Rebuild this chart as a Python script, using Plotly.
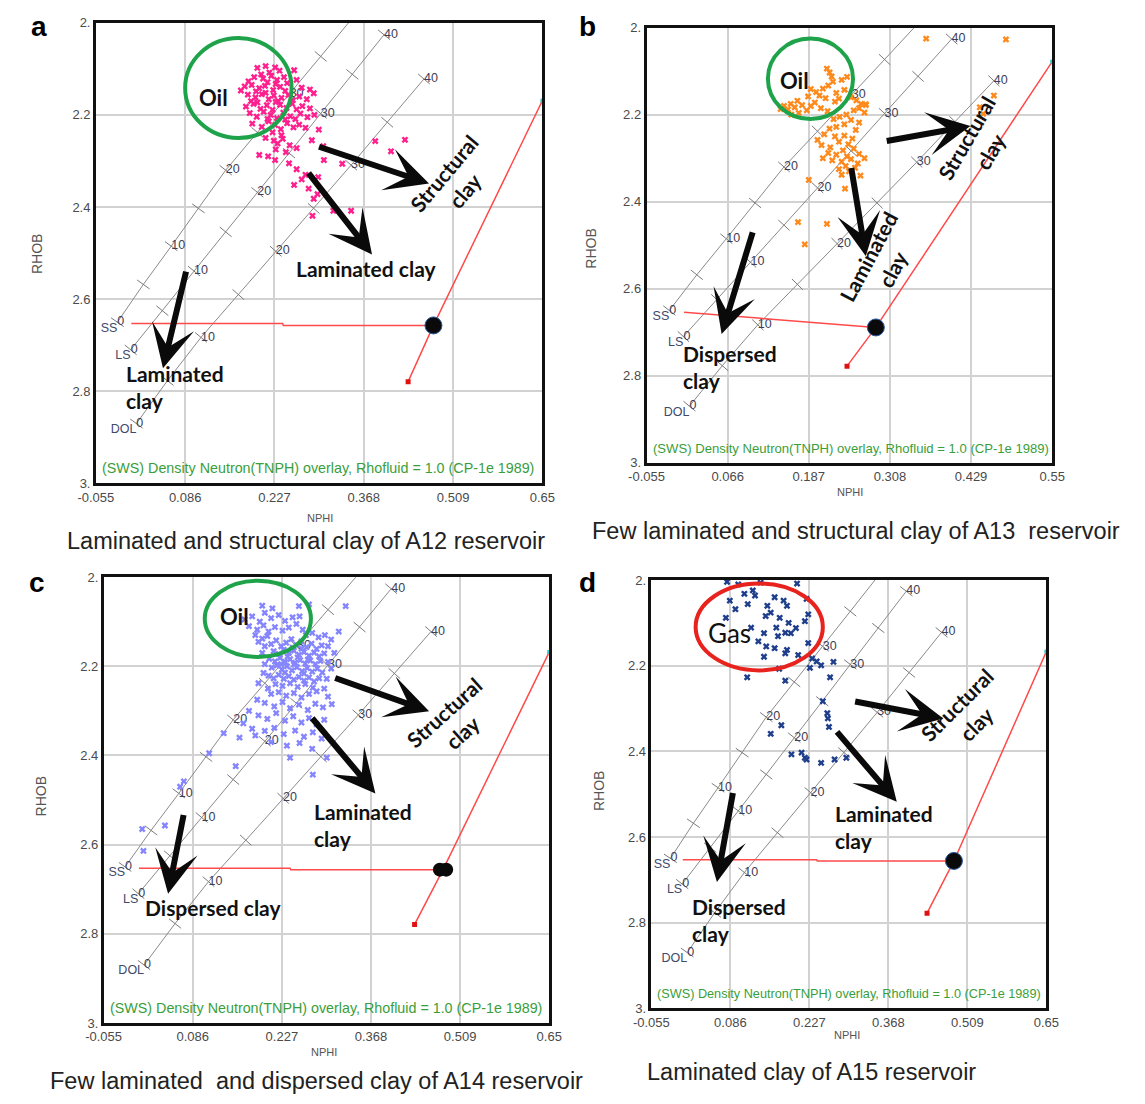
import math
import plotly.graph_objects as go

W, H = 1145, 1104

# ---------------- CP-1e lithology lines (porosity in p.u.) ----------------
PHI = [0, 5, 10, 15, 20, 25, 30, 35, 40]
SS_NPHI = [-0.021, 0.020, 0.064, 0.107, 0.150, 0.200, 0.251, 0.300, 0.350]
SS_RHOB = [2.650, 2.568, 2.485, 2.403, 2.320, 2.238, 2.155, 2.073, 1.990]
LS_NPHI = [0.000, 0.050, 0.100, 0.150, 0.200, 0.250, 0.300, 0.350, 0.400]
LS_RHOB = [2.710, 2.625, 2.539, 2.454, 2.368, 2.283, 2.197, 2.112, 2.026]
DOL_NPHI = [0.009, 0.058, 0.111, 0.170, 0.229, 0.289, 0.348, 0.405, 0.463]
DOL_RHOB = [2.870, 2.777, 2.683, 2.590, 2.496, 2.403, 2.309, 2.216, 2.122]

Y_TICKS = [2.0, 2.2, 2.4, 2.6, 2.8, 3.0]
Y_TICKTEXT = ["2.", "2.2", "2.4", "2.6", "2.8", "3."]
X_TICKS_A = [-0.055, 0.086, 0.227, 0.368, 0.509, 0.65]
X_TICKS_B = [-0.055, 0.066, 0.187, 0.308, 0.429, 0.55]

# ---------------- well data ----------------
A_NPHI = [0.200,0.213,0.228,0.235,0.219,0.258,0.206,
          0.195,0.209,0.222,0.231,0.242,0.186,0.216,0.247,0.262,
          0.180,0.191,0.203,0.212,0.225,0.236,0.244,0.198,0.229,0.270,0.283,0.174,
          0.185,0.197,0.207,0.218,0.226,0.238,0.249,0.256,0.190,0.213,0.233,0.266,0.278,0.289,
          0.182,0.194,0.205,0.215,0.224,0.236,0.246,0.255,0.262,0.271,0.200,0.229,0.283,
          0.188,0.199,0.210,0.221,0.231,0.241,0.252,0.260,0.268,0.216,0.244,0.279,0.290,
          0.192,0.207,0.218,0.228,0.237,0.247,0.257,0.266,0.224,0.238,0.276,0.297,
          0.213,0.226,0.232,0.240,0.251,0.229,0.245,0.203,0.217,0.262,0.286,0.304,
          0.228,0.250,0.262,0.305,0.334,0.270,0.258,0.281,0.289,0.295,0.287,0.320,
          0.348,0.386,0.433,0.411,0.296,0.276]
A_RHOB = [2.098,2.094,2.097,2.104,2.108,2.103,2.112,
          2.118,2.121,2.115,2.124,2.118,2.127,2.129,2.131,2.124,
          2.138,2.135,2.142,2.137,2.146,2.139,2.148,2.149,2.133,2.141,2.145,2.147,
          2.156,2.162,2.155,2.166,2.158,2.163,2.157,2.168,2.170,2.152,2.170,2.160,2.166,2.153,
          2.182,2.176,2.187,2.179,2.189,2.178,2.185,2.176,2.188,2.181,2.173,2.172,2.186,
          2.196,2.204,2.193,2.200,2.207,2.195,2.203,2.209,2.197,2.209,2.210,2.205,2.200,
          2.219,2.226,2.214,2.222,2.231,2.218,2.227,2.221,2.238,2.244,2.228,2.232,
          2.250,2.256,2.262,2.252,2.266,2.275,2.281,2.287,2.290,2.272,2.255,2.268,
          2.298,2.305,2.318,2.298,2.306,2.340,2.352,2.360,2.382,2.372,2.419,2.408,
          2.408,2.257,2.254,2.279,2.335,2.330]

B_NPHI = [0.214,0.218,0.221,0.223,0.216,0.236,0.244,0.208,0.198,0.190,0.186,0.203,0.212,0.228,0.240,0.226,0.232,
          0.170,0.160,0.150,0.156,0.166,0.177,0.184,0.190,0.196,0.205,0.215,0.172,0.145,0.161,
          0.250,0.258,0.265,0.272,0.262,0.254,0.270,0.243,0.233,0.224,0.250,0.262,0.240,0.228,0.218,0.257,
          0.210,0.226,0.240,0.252,0.232,0.246,0.206,0.219,0.238,0.254,0.262,0.228,0.244,0.208,0.222,0.236,
          0.250,0.260,0.270,0.242,0.232,0.247,0.256,0.236,0.264,0.216,0.200,
          0.187,0.241,0.171,0.214,0.181,0.362,0.481,0.463,0.442,0.447,0.272]
B_RHOB = [2.094,2.103,2.112,2.124,2.133,2.120,2.113,2.140,2.148,2.141,2.158,2.156,2.162,2.150,2.143,2.170,2.163,
          2.168,2.175,2.180,2.188,2.183,2.178,2.190,2.180,2.172,2.185,2.192,2.196,2.187,2.200,
          2.160,2.167,2.175,2.178,2.185,2.190,2.195,2.200,2.205,2.210,2.212,2.218,2.222,2.228,2.232,2.235,
          2.245,2.250,2.248,2.255,2.262,2.268,2.270,2.275,2.282,2.278,2.290,2.292,2.296,2.300,2.305,2.308,
          2.302,2.312,2.300,2.318,2.325,2.330,2.322,2.338,2.340,2.288,2.258,
          2.350,2.370,2.447,2.451,2.498,2.025,2.027,2.156,2.183,2.198,2.176]

C_NPHI = [0.210,0.218,0.226,0.234,0.242,0.250,0.258,0.266,0.274,0.282,0.290,
          0.214,0.222,0.230,0.238,0.246,0.254,0.262,0.270,0.278,0.286,0.294,
          0.207,0.216,0.224,0.232,0.240,0.248,0.256,0.264,0.272,0.280,0.288,
          0.211,0.219,0.227,0.235,0.243,0.251,0.259,0.267,0.275,0.283,0.291,
          0.206,0.214,0.222,0.230,0.238,0.246,0.254,0.262,0.270,0.278,0.286,
          0.217,0.228,0.240,0.252,0.264,0.276,0.246,0.252,0.236,0.258,0.244,0.268,0.226,0.262,0.232,
          0.168,0.180,0.192,0.200,0.210,0.222,0.232,0.244,0.175,0.188,0.198,0.206,0.216,0.228,0.238,
          0.250,0.260,0.185,0.196,0.204,0.190,0.200,0.212,0.196,0.254,0.270,0.255,0.265,0.275,0.285,
          0.295,0.305,0.317,0.328,0.300,0.310,0.300,0.305,0.298,0.196,0.200,0.198,
          0.205,0.190,0.210,0.222,0.234,0.246,0.258,0.270,0.282,0.294,0.300,0.188,0.200,0.215,0.228,
          0.240,0.254,0.268,0.280,0.292,0.306,0.175,0.190,0.204,0.218,0.232,0.245,0.258,0.270,0.282,
          0.294,0.166,0.180,0.200,0.215,0.230,0.248,0.262,0.276,0.290,0.210,0.235,0.255,0.275,0.160,
          0.185,0.154,0.276,0.072,0.066,0.042,0.006,0.008,0.112,0.135,0.298,0.240]
C_RHOB = [2.150,2.142,2.155,2.147,2.139,2.152,2.144,2.157,2.149,2.161,2.153,
          2.166,2.172,2.163,2.170,2.165,2.174,2.168,2.176,2.169,2.178,2.171,
          2.183,2.189,2.181,2.190,2.184,2.192,2.186,2.194,2.187,2.195,2.188,
          2.203,2.198,2.207,2.200,2.209,2.202,2.211,2.204,2.212,2.205,2.214,
          2.221,2.227,2.219,2.228,2.222,2.230,2.224,2.232,2.225,2.234,2.227,
          2.240,2.244,2.238,2.246,2.240,2.248,2.196,2.180,2.178,2.160,2.158,2.185,2.195,2.216,2.214,
          2.095,2.088,2.100,2.080,2.092,2.085,2.098,2.090,2.110,2.118,2.108,2.122,2.112,2.120,2.113,
          2.105,2.118,2.130,2.138,2.132,2.145,2.155,2.070,2.064,2.065,2.061,2.088,2.130,2.125,2.135,
          2.130,2.140,2.122,2.065,2.155,2.170,2.190,2.205,2.228,2.170,2.195,2.215,
          2.250,2.238,2.262,2.258,2.266,2.260,2.270,2.262,2.256,2.250,2.268,2.275,2.282,2.290,2.280,
          2.294,2.286,2.298,2.284,2.292,2.285,2.300,2.310,2.318,2.305,2.322,2.312,2.326,2.316,2.330,
          2.320,2.328,2.340,2.345,2.338,2.352,2.344,2.358,2.348,2.362,2.370,2.378,2.372,2.385,2.360,
          2.355,2.424,2.443,2.458,2.470,2.557,2.565,2.614,2.395,2.350,2.405,2.405]

D_NPHI = [0.085,0.111,0.126,0.130,0.117,0.152,0.165,0.181,0.187,0.222,0.225,0.219,0.078,0.123,0.146,
          0.168,0.184,0.194,0.150,0.165,0.184,0.146,0.207,0.225,0.171,0.136,0.158,0.174,0.190,0.203,
          0.149,0.187,0.080,0.100,0.140,0.205,0.095,
          0.116,0.173,0.184,0.232,0.248,0.264,0.270,0.251,0.259,0.260,0.262,0.158,0.195,0.213,0.219,
          0.222,0.248,0.272,0.293,0.177,0.240,0.228]
D_RHOB = [2.048,2.032,2.024,2.036,2.056,2.060,2.040,2.048,2.060,2.044,2.080,2.096,2.088,2.111,2.124,
          2.111,2.123,2.124,2.155,2.159,2.171,2.179,2.175,2.147,2.131,2.143,2.076,2.088,2.100,2.112,
          2.084,2.163,2.004,2.010,2.006,2.008,2.068,
          2.227,2.207,2.235,2.183,2.199,2.227,2.191,2.283,2.311,2.323,2.343,2.359,2.407,2.403,2.415,
          2.419,2.427,2.419,2.415,2.339,2.190,2.205]

# ---------------- shale / clay reference lines ----------------
SHALE_A = (0.478, 2.657)
SAND_LINE_A_X = [0.001, 0.240, 0.241, 0.478]
SAND_LINE_A_Y = [2.653, 2.653, 2.657, 2.657]
CLAY_LINE_A_X = [0.438, 0.478, 0.650]
CLAY_LINE_A_Y = [2.779, 2.657, 2.169]

SHALE_B = (0.287, 2.689)
SAND_LINE_B_X = [0.001, 0.287]
SAND_LINE_B_Y = [2.654, 2.689]
CLAY_LINE_B_X = [0.244, 0.287, 0.550]
CLAY_LINE_B_Y = [2.778, 2.689, 2.078]

SHALE_C = (0.482, 2.656)
SAND_LINE_C_X = [0.001, 0.240, 0.241, 0.482]
SAND_LINE_C_Y = [2.653, 2.653, 2.656, 2.656]
CLAY_LINE_C_X = [0.437, 0.482, 0.650]
CLAY_LINE_C_Y = [2.779, 2.656, 2.168]

SHALE_D = (0.485, 2.656)
SAND_LINE_D_X = [0.001, 0.240, 0.241, 0.485]
SAND_LINE_D_Y = [2.653, 2.653, 2.656, 2.656]
CLAY_LINE_D_X = [0.437, 0.485, 0.650]
CLAY_LINE_D_Y = [2.778, 2.656, 2.167]

CAPTIONS = ["Laminated and structural clay of A12 reservoir",
            "Few laminated and structural clay of A13  reservoir",
            "Few laminated  and dispersed clay of A14 reservoir",
            "Laminated clay of A15 reservoir"]
LETTERS = ["a", "b", "c", "d"]
OVERLAY_TEXT = "(SWS) Density Neutron(TNPH) overlay, Rhofluid = 1.0 (CP-1e 1989)"

# ---------------- layout of panels (pixels) ----------------
panels = [
    dict(box=(80, 539, 16, 483), xmax=0.65, xt=X_TICKS_A, x=A_NPHI, y=A_RHOB, color="#ff1f8e",
         sand=(SAND_LINE_A_X, SAND_LINE_A_Y), clay=(CLAY_LINE_A_X, CLAY_LINE_A_Y), shale=SHALE_A,
         cap=(296, 541), letter=(22, 20), rhob=(19, 250), nphi=(310, 518), ovsize=14.3,
         ring=dict(x0=0.086, x1=0.254, y0=2.033, y1=2.250, color="#1fa34a"),
         ringtext=dict(t="<b>Oil</b>", x=0.130, y=2.162, size=22),
         arrows=[((0.295, 2.268), (0.471, 2.349)), ((0.279, 2.323), (0.381, 2.503)), ((0.088, 2.537), (0.051, 2.750))],
         labels=[dict(t="<b>Structural<br>clay</b>", x=0.510, y=2.345, a=-50, xa="center"),
                 dict(t="<b>Laminated clay</b>", x=0.372, y=2.533, a=0, xa="center"),
                 dict(t="<b>Laminated<br>clay</b>", x=-0.010, y=2.790, a=0, xa="left")]),
    dict(box=(646, 1063, 21, 462), xmax=0.55, xt=X_TICKS_B, x=B_NPHI, y=B_RHOB, color="#ff8a1c",
         sand=(SAND_LINE_B_X, SAND_LINE_B_Y), clay=(CLAY_LINE_B_X, CLAY_LINE_B_Y), shale=SHALE_B,
         cap=(861, 531), letter=(585, 20), rhob=(589, 245), nphi=(855, 492), ovsize=13.1,
         ring=dict(x0=0.126, x1=0.253, y0=2.025, y1=2.210, color="#1fa34a"),
         ringtext=dict(t="<b>Oil</b>", x=0.165, y=2.121, size=22),
         arrows=[((0.301, 2.261), (0.428, 2.226)), ((0.250, 2.319), (0.272, 2.525)), ((0.104, 2.467), (0.057, 2.704))],
         labels=[dict(t="<b>Structural<br>clay</b>", x=0.440, y=2.268, a=-60, xa="center"),
                 dict(t="<b>Laminated<br>clay</b>", x=0.293, y=2.540, a=-62, xa="center"),
                 dict(t="<b>Dispersed<br>clay</b>", x=-0.003, y=2.780, a=0, xa="left")]),
    dict(box=(88, 546, 578, 1030), xmax=0.65, xt=X_TICKS_A, x=C_NPHI, y=C_RHOB, color="#8585ff",
         sand=(SAND_LINE_C_X, SAND_LINE_C_Y), clay=(CLAY_LINE_C_X, CLAY_LINE_C_Y), shale=SHALE_C,
         cap=(307, 1089), letter=(20, 583), rhob=(24, 800), nphi=(315, 1059), ovsize=14.3,
         ring=dict(x0=0.105, x1=0.273, y0=2.008, y1=2.179, color="#1fa34a"),
         ringtext=dict(t="<b>Oil</b>", x=0.152, y=2.088, size=22),
         arrows=[((0.309, 2.225), (0.460, 2.301)), ((0.273, 2.313), (0.375, 2.485)), ((0.072, 2.530), (0.047, 2.710))],
         labels=[dict(t="<b>Structural<br>clay</b>", x=0.498, y=2.325, a=-42, xa="center"),
                 dict(t="<b>Laminated<br>clay</b>", x=0.274, y=2.555, a=0, xa="left"),
                 dict(t="<b>Dispersed clay</b>", x=0.008, y=2.740, a=0, xa="left")]),
    dict(box=(651, 1057, 581, 1015), xmax=0.65, xt=X_TICKS_A, x=D_NPHI, y=D_RHOB, color="#1f3f8c",
         sand=(SAND_LINE_D_X, SAND_LINE_D_Y), clay=(CLAY_LINE_D_X, CLAY_LINE_D_Y), shale=SHALE_D,
         cap=(816, 1080), letter=(585, 583), rhob=(597, 795), nphi=(852, 1042), ovsize=12.7,
         ring=dict(x0=0.024, x1=0.251, y0=2.008, y1=2.211, color="#e8231d"),
         ringtext=dict(t="Gas", x=0.085, y=2.124, size=26),
         arrows=[((0.306, 2.283), (0.466, 2.323)), ((0.274, 2.351), (0.383, 2.518)), ((0.091, 2.494), (0.062, 2.705))],
         labels=[dict(t="<b>Structural<br>clay</b>", x=0.507, y=2.312, a=-45, xa="center"),
                 dict(t="<b>Laminated<br>clay</b>", x=0.270, y=2.576, a=0, xa="left"),
                 dict(t="<b>Dispersed<br>clay</b>", x=0.014, y=2.795, a=0, xa="left")]),
]

fig = go.Figure()
annotations = []
shapes = []
CURVES = [("SS", SS_NPHI, SS_RHOB), ("LS", LS_NPHI, LS_RHOB), ("DOL", DOL_NPHI, DOL_RHOB)]
TICKFONT = dict(family="Liberation Sans, Arial", size=13, color="#4a4a4a")

for i, p in enumerate(panels):
    k = "" if i == 0 else str(i + 1)
    xa, ya = "x" + k, "y" + k
    x0, x1, y0, y1 = p["box"]
    xmin, xmax = -0.055, p["xmax"]
    pxx = (x1 - x0) / (xmax - xmin)
    pxy = (y1 - y0) / 1.0

    fig.layout["xaxis" + k] = dict(
        domain=[x0 / W, x1 / W], range=[xmin, xmax], anchor=ya,
        tickvals=p["xt"], ticktext=[("%g" % v) for v in p["xt"]],
        showgrid=True, gridcolor="#d2d2d2", gridwidth=1.5, zeroline=False,
        showline=True, linecolor="#111", linewidth=2.5, mirror=True, ticks="",
        tickfont=TICKFONT)
    fig.layout["yaxis" + k] = dict(
        domain=[1 - y1 / H, 1 - y0 / H], range=[3.0, 2.0], anchor=xa,
        tickvals=Y_TICKS, ticktext=Y_TICKTEXT,
        showgrid=True, gridcolor="#d2d2d2", gridwidth=1.5, zeroline=False,
        showline=True, linecolor="#111", linewidth=2.5, mirror=True, ticks="",
        tickfont=TICKFONT)

    # lithology lines with porosity ticks
    for name, cx, cy in CURVES:
        fig.add_trace(go.Scatter(x=cx, y=cy, mode="lines", xaxis=xa, yaxis=ya,
                                 line=dict(color="#8a8a8a", width=1), hoverinfo="skip", showlegend=False))
        angs = []
        for j in range(len(cx)):
            j0, j1 = max(j - 1, 0), min(j + 1, len(cx) - 1)
            dx = (cx[j1] - cx[j0]) * pxx
            dy = (cy[j0] - cy[j1]) * pxy
            alpha = math.degrees(math.atan2(dy, dx))
            angs.append(90 - alpha)
        fig.add_trace(go.Scatter(x=cx, y=cy, mode="markers", xaxis=xa, yaxis=ya,
                                 marker=dict(symbol="line-ew", size=11, angle=angs,
                                             line=dict(color="#7a7a7a", width=1)),
                                 hoverinfo="skip", showlegend=False))
        lx = [cx[j] for j in range(0, len(cx), 2)]
        ly = [cy[j] for j in range(0, len(cy), 2)]
        lt = [str(PHI[j]) for j in range(0, len(cx), 2)]
        fig.add_trace(go.Scatter(x=lx, y=ly, text=lt, mode="text", textposition="middle right",
                                 xaxis=xa, yaxis=ya,
                                 textfont=dict(family="Liberation Sans, Arial", size=12.5, color="#3d3d55"),
                                 hoverinfo="skip", showlegend=False))
        fig.add_trace(go.Scatter(x=[cx[0]], y=[cy[0]], text=[name], mode="text", textposition="bottom left",
                                 xaxis=xa, yaxis=ya,
                                 textfont=dict(family="Liberation Sans, Arial", size=12.5, color="#3d4a6b"),
                                 hoverinfo="skip", showlegend=False))

    # sand-shale and clay lines
    fig.add_trace(go.Scatter(x=p["sand"][0], y=p["sand"][1], mode="lines", xaxis=xa, yaxis=ya,
                             line=dict(color="#ff4a4a", width=1.5), hoverinfo="skip", showlegend=False))
    fig.add_trace(go.Scatter(x=p["clay"][0], y=p["clay"][1], mode="lines", xaxis=xa, yaxis=ya,
                             line=dict(color="#ff4a4a", width=1.5), hoverinfo="skip", showlegend=False))
    fig.add_trace(go.Scatter(x=[p["clay"][0][0]], y=[p["clay"][1][0]], mode="markers", xaxis=xa, yaxis=ya,
                             marker=dict(symbol="square", size=5, color="#e01010"),
                             hoverinfo="skip", showlegend=False))
    fig.add_trace(go.Scatter(x=[p["clay"][0][-1]], y=[p["clay"][1][-1]], mode="markers", xaxis=xa, yaxis=ya,
                             marker=dict(symbol="square", size=4, color="#30c8c8"),
                             hoverinfo="skip", showlegend=False, cliponaxis=False))

    # data
    fig.add_trace(go.Scatter(x=p["x"], y=p["y"], mode="markers", xaxis=xa, yaxis=ya,
                             marker=dict(symbol="x", size=6, color=p["color"], line=dict(width=0)),
                             hoverinfo="skip", showlegend=False))

    # shale point
    if i == 2:
        fig.add_trace(go.Scatter(x=[p["shale"][0] - 0.005, p["shale"][0] + 0.005],
                                 y=[p["shale"][1], p["shale"][1]], mode="markers", xaxis=xa, yaxis=ya,
                                 marker=dict(symbol="circle", size=14, color="#0a0a0a"),
                                 hoverinfo="skip", showlegend=False))
    else:
        fig.add_trace(go.Scatter(x=[p["shale"][0]], y=[p["shale"][1]], mode="markers", xaxis=xa, yaxis=ya,
                                 marker=dict(symbol="circle", size=17, color="#0a0a0a",
                                             line=dict(color="#2a5aa8", width=1)),
                                 hoverinfo="skip", showlegend=False))

    # fluid ring
    r = p["ring"]
    shapes.append(dict(type="circle", xref=xa, yref=ya, x0=r["x0"], x1=r["x1"], y0=r["y0"], y1=r["y1"],
                       line=dict(color=r["color"], width=4), layer="above"))
    rt = p["ringtext"]
    annotations.append(dict(x=rt["x"], y=rt["y"], xref=xa, yref=ya, text=rt["t"], showarrow=False,
                            font=dict(family="Lato, Open Sans", size=rt["size"], color="#111"),
                            xanchor="center", yanchor="middle"))

    # arrows
    for (tx, ty), (hx, hy) in p["arrows"]:
        annotations.append(dict(x=hx, y=hy, ax=tx, ay=ty, xref=xa, yref=ya, axref=xa, ayref=ya,
                                text="", showarrow=True, arrowhead=3, arrowsize=1.2, arrowwidth=6,
                                arrowcolor="#0a0a0a", standoff=0, startstandoff=0))
    for lb in p["labels"]:
        annotations.append(dict(x=lb["x"], y=lb["y"], xref=xa, yref=ya, text=lb["t"], showarrow=False,
                                textangle=lb["a"], xanchor=lb["xa"], yanchor="middle", align=lb["xa"],
                                font=dict(family="Lato, Open Sans", size=21, color="#111")))

    # overlay caption inside the plot
    annotations.append(dict(x=0.01, y=0.012, xref=xa + " domain", yref=ya + " domain", text=OVERLAY_TEXT,
                            showarrow=False, xanchor="left", yanchor="bottom",
                            font=dict(family="Liberation Sans, Arial", size=p["ovsize"], color="#3a9e3a")))
    # axis titles
    annotations.append(dict(x=p["rhob"][0] / W, y=1 - p["rhob"][1] / H, xref="paper", yref="paper",
                            text="RHOB", textangle=-90, showarrow=False, xanchor="center", yanchor="middle",
                            font=dict(family="Liberation Sans, Arial", size=14, color="#555")))
    annotations.append(dict(x=p["nphi"][0] / W, y=1 - p["nphi"][1] / H, xref="paper", yref="paper",
                            text="NPHI", showarrow=False, xanchor="center", yanchor="middle",
                            font=dict(family="Liberation Sans, Arial", size=11, color="#555")))
    # caption and panel letter
    annotations.append(dict(x=p["cap"][0] / W, y=1 - p["cap"][1] / H, xref="paper", yref="paper",
                            text=CAPTIONS[i], showarrow=False, xanchor="center", yanchor="middle",
                            font=dict(family="Liberation Sans, Arial", size=23.5, color="#222")))
    annotations.append(dict(x=p["letter"][0] / W, y=1 - p["letter"][1] / H, xref="paper", yref="paper",
                            text="<b>%s</b>" % LETTERS[i], showarrow=False, xanchor="center", yanchor="middle",
                            font=dict(family="Liberation Sans, Arial", size=28, color="#000")))

fig.update_layout(width=W, height=H, margin=dict(l=0, r=0, t=0, b=0),
                  paper_bgcolor="white", plot_bgcolor="white",
                  annotations=annotations, shapes=shapes, showlegend=False)
fig.write_html("out.html", config={"displayModeBar": False},
               post_script="document.body.style.margin='0px';")
